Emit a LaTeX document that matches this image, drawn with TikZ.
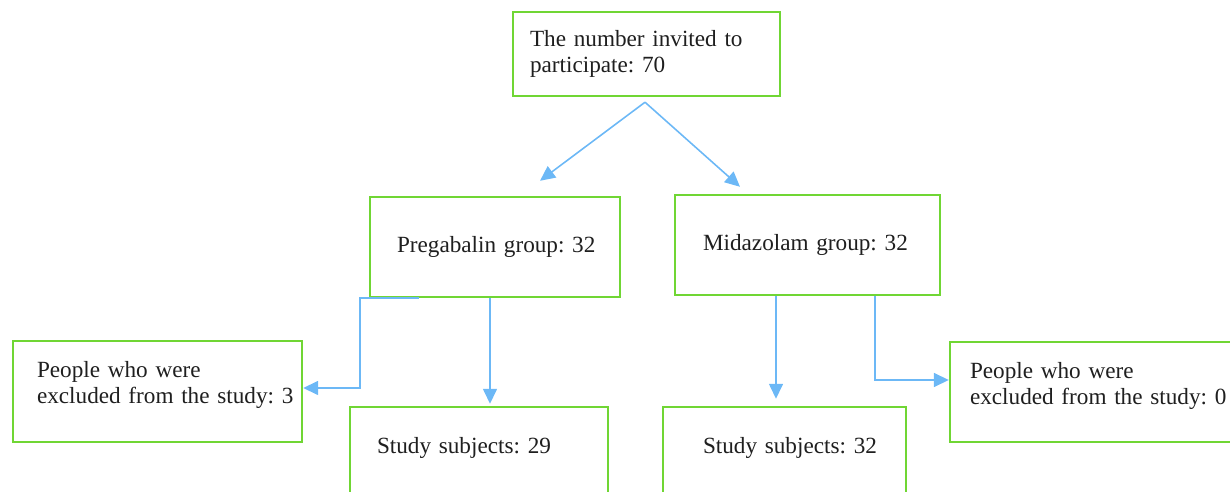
\documentclass[tikz,border=0pt]{standalone}
\usepackage{fontspec}
\setmainfont{Liberation Serif}
\usepackage{tikz}
\usetikzlibrary{positioning,calc,arrows.meta}
\definecolor{BoxGreen}{RGB}{112,214,52}
\definecolor{ArrowBlue}{RGB}{108,184,246}
\tikzset{
    flowbox/.style={rectangle, draw=BoxGreen, line width=1.4pt, fill=white, align=left, inner ysep=0pt, text=black!88, font=\fontsize{13.2}{15}\selectfont\frenchspacing},
    lifted/.style={text depth=#1},
    flowarrow/.style={draw=ArrowBlue, line width=0.9pt, -{Triangle[length=0.3cm, width=0.28cm]}}
}

\begin{document}
\begin{tikzpicture}[x=0.02cm, y=-0.02cm]
    % --- FRAME (pixels of the source) ---
    \useasboundingbox (0,0) rectangle (1230,492);
    \clip (0,0) rectangle (1230,492);

    % --- TOP: invited ---
    \node[flowbox, minimum width=5.34cm, minimum height=1.68cm, inner xsep=0.34cm, text width=4.66cm] (invited) at (646.5,54) {The number invited to\\participate: 70};

    % --- GROUPS ---
    \node[flowbox, minimum width=5.0cm, minimum height=2.0cm, inner xsep=0.54cm, text width=3.92cm] (preg) at (495,247) {\mbox{Pregabalin group: 32}};
    \node[flowbox, minimum width=5.3cm, minimum height=2.0cm, inner xsep=0.56cm, text width=4.18cm] (mida) at (807.5,245) {\mbox{Midazolam group: 32}};

    % --- EXCLUDED ---
    \node[flowbox, lifted=0.88cm, minimum width=5.78cm, minimum height=2.02cm, inner xsep=0.48cm, text width=4.82cm] (exclL) at (157.5,391.5) {People who were\\\mbox{excluded from the study: 3}};
    \node[flowbox, lifted=0.88cm, minimum width=6.0cm, minimum height=2.0cm, inner xsep=0.4cm, text width=5.2cm] (exclR) at (1100,392) {People who were\\\mbox{excluded from the study: 0}};

    % --- STUDY SUBJECTS (cut at the bottom) ---
    \node[flowbox, lifted=0.32cm, minimum width=5.16cm, minimum height=1.86cm, inner xsep=0.54cm, text width=4.08cm] (studyL) at (479,453.5) {\mbox{Study subjects: 29}};
    \node[flowbox, lifted=0.32cm, minimum width=4.86cm, minimum height=1.86cm, inner xsep=0.8cm, text width=3.26cm] (studyR) at (784.5,453.5) {\mbox{Study subjects: 32}};

    % --- ARROWS ---
    \coordinate (split) at ($(invited.south)+(-1.5,5)$);
    \coordinate (tipPreg) at ($(preg.north)+(45,-15)$);
    \coordinate (tipMida) at ($(mida.north)+(-67.5,-7)$);
    \draw[flowarrow] (split) -- (tipPreg);
    \draw[flowarrow] (split) -- (tipMida);

    \draw[flowarrow] ($(preg.south west)+(50,0)$) -- ++(-59,0) |- ($(exclL.east)+(0,-3.5)$);
    \draw[flowarrow] ($(preg.south)+(-5,0)$) -- ($(studyL.north)+(11,-2)$);

    \draw[flowarrow] ($(mida.south)+(-31.5,0)$) -- ($(studyR.north)+(-8.5,-7)$);
    \draw[flowarrow] ($(mida.south)+(67.5,0)$) |- ($(exclR.west)+(0,-12)$);

\end{tikzpicture}
\end{document}
